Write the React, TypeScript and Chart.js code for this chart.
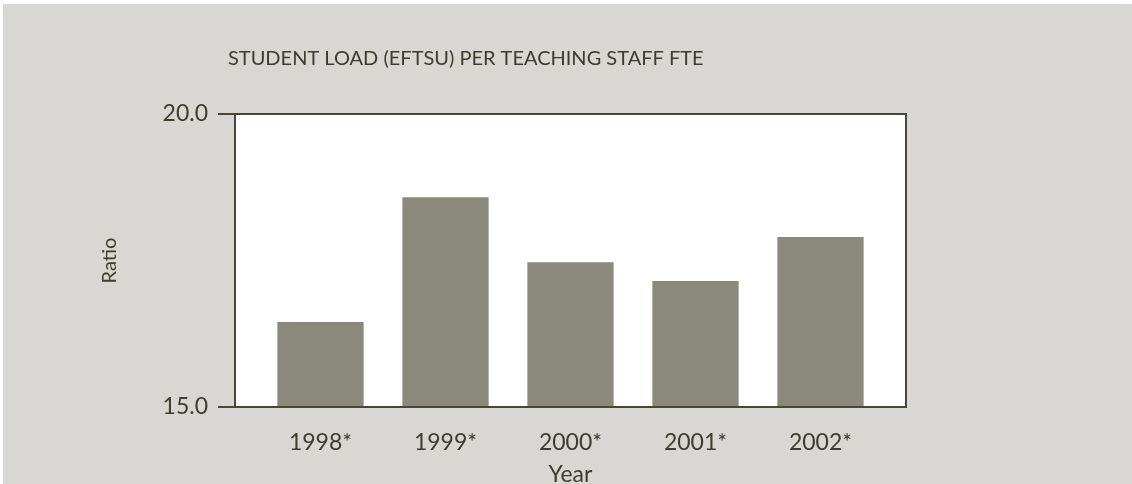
import React, { useEffect, useRef } from "react";
import { Chart, registerables } from "chart.js";

Chart.register(...registerables);

const titleText = "STUDENT LOAD (EFTSU) PER TEACHING STAFF FTE";
const categories = ["1998*", "1999*", "2000*", "2001*", "2002*"];
const ratioValues = [16.45, 18.58, 17.47, 17.15, 17.9];
const yMin = 15;
const yMax = 20;
const yStep = 5;
const xEdgePad = 0.684;

const FONT = "Lato, 'DejaVu Sans', sans-serif";
const TEXT = "#403b2f";
const LINE = "#4a4636";
const BG = "#d9d7d3";
const BAR = "#8b897c";

const framePlugin = {
  id: "frame",
  beforeDatasetsDraw(chart: any) {
    const { ctx, chartArea } = chart;
    ctx.save();
    ctx.fillStyle = "#ffffff";
    ctx.fillRect(chartArea.left, chartArea.top, chartArea.right - chartArea.left, chartArea.bottom - chartArea.top);
    ctx.restore();
  },
  afterDatasetsDraw(chart: any) {
    const { ctx, chartArea } = chart;
    ctx.save();
    ctx.strokeStyle = LINE;
    ctx.lineWidth = 2;
    ctx.strokeRect(chartArea.left, chartArea.top, chartArea.right - chartArea.left, chartArea.bottom - chartArea.top);
    ctx.fillStyle = TEXT;
    ctx.font = `20px ${FONT}`;
    ctx.textAlign = "left";
    ctx.textBaseline = "middle";
    ctx.fillText(titleText, 225, 55);
    ctx.restore();
  },
};

export default function App() {
  const ref = useRef<HTMLCanvasElement>(null);
  useEffect(() => {
    if (!ref.current) return;
    const chart = new Chart(ref.current, {
      type: "bar",
      data: {
        datasets: [
          {
            data: ratioValues.map((v, i) => ({ x: i, y: v })),
            backgroundColor: BAR,
            borderWidth: 0,
            barPercentage: 0.69,
            categoryPercentage: 1,
          },
        ],
      },
      options: {
        animation: false,
        responsive: true,
        maintainAspectRatio: false,
        layout: { padding: { left: 0, right: 226, top: 110, bottom: 0 } },
        plugins: { legend: { display: false }, tooltip: { enabled: false }, title: { display: false } },
        scales: {
          x: {
            type: "linear",
            min: -xEdgePad,
            max: categories.length - 1 + xEdgePad,
            offset: false,
            grid: { display: false },
            border: { display: false },
            afterBuildTicks: (s: any) => {
              s.ticks = categories.map((_, i) => ({ value: i }));
            },
            ticks: {
              color: TEXT,
              font: { family: FONT, size: 23 },
              padding: 14,
              autoSkip: false,
              maxRotation: 0,
              callback: (v: any) => categories[Math.round(Number(v))] ?? "",
            },
            title: { display: true, text: "Year", color: TEXT, font: { family: FONT, size: 23 }, padding: { top: 0, bottom: 8 } },
            afterFit: (s: any) => { s.height = 89; },
          },
          y: {
            min: yMin,
            max: yMax,
            ticks: {
              stepSize: yStep,
              color: TEXT,
              font: { family: FONT, size: 23 },
              padding: 10,
              callback: (v: any) => Number(v).toFixed(1),
            },
            grid: { drawOnChartArea: false, drawTicks: true, tickLength: 17, color: LINE, lineWidth: 2 },
            border: { display: false },
            title: { display: true, text: "Ratio", color: TEXT, font: { family: FONT, size: 20 }, padding: { top: 95, bottom: 0 } },
            afterFit: (s: any) => { s.width = 232; },
          },
        },
      },
      plugins: [framePlugin],
    });
    return () => chart.destroy();
  }, []);
  return (
    <div style={{ position: "fixed", left: 3, top: 4, right: 0, bottom: 0, overflow: "hidden", background: BG }}>
      <div style={{ position: "relative", width: 1129, height: 492 }}>
        <canvas ref={ref} />
      </div>
    </div>
  );
}
